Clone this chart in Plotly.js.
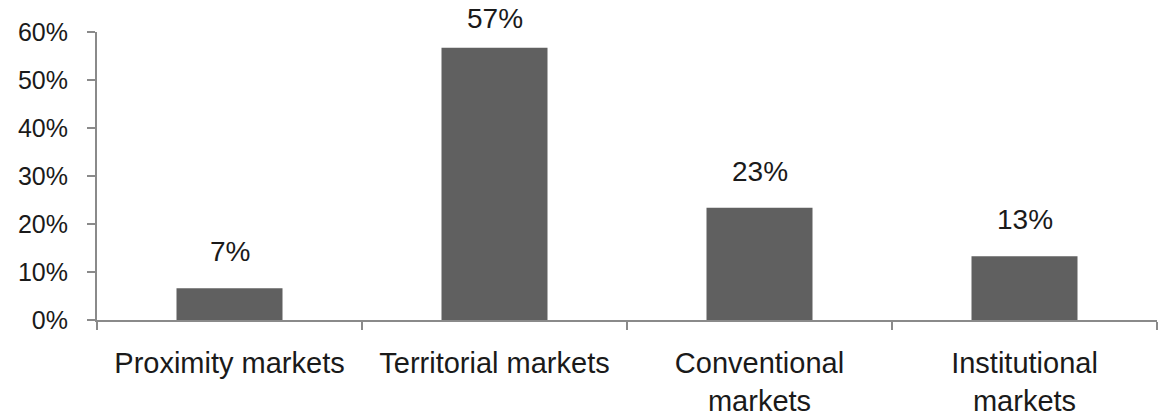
<!DOCTYPE html>
<html><head><meta charset="utf-8">
<script src="https://cdn.plot.ly/plotly-3.0.1.min.js"></script>
<style>html,body{margin:0;padding:0;background:#fff}#chart{width:1163px;height:419px}</style>
</head><body><div id="chart"></div>
<script>
const categories = ["Proximity markets", "Territorial markets", "Conventional<br>markets", "Institutional<br>markets"];
const values = [0.066, 0.567, 0.234, 0.133];
const valueLabels = ["7%", "57%", "23%", "13%"];
const yTickVals = [0, 0.1, 0.2, 0.3, 0.4, 0.5, 0.6];
const yTickText = ["0%", "10%", "20%", "30%", "40%", "50%", "60%"];

const fam = "Liberation Sans, Arial, sans-serif";
const tickFont = {family: fam, size: 25, color: "#1a1a1a"};
const catFont = {family: fam, size: 29, color: "#1a1a1a"};
const labelFont = {family: fam, size: 28, color: "#1a1a1a"};
const yMax = 0.6;

// labels sit above bars; near the top of the plot they are squeezed closer
const annotations = categories.map((c, i) => ({
  x: c, y: values[i], xref: "x", yref: "y",
  text: valueLabels[i], showarrow: false,
  yanchor: "bottom", yshift: values[i] > yMax * 0.9 ? 12 : 19, font: labelFont
}));

Plotly.newPlot("chart", [{
  type: "bar",
  x: categories,
  y: values,
  marker: {color: "#606060"},
  width: 0.4,
  hoverinfo: "none"
}], {
  width: 1163, height: 419,
  margin: {l: 97, r: 6, t: 32, b: 99},
  paper_bgcolor: "#fff", plot_bgcolor: "#fff",
  showlegend: false,
  font: tickFont,
  annotations: annotations,
  xaxis: {
    type: "category",
    showline: true, linecolor: "#8a8a8a", linewidth: 2,
    ticks: "outside", tickson: "boundaries", ticklen: 8, tickcolor: "#8a8a8a", tickwidth: 2,
    showgrid: false, zeroline: false,
    ticklabelstandoff: 16,
    tickfont: catFont
  },
  yaxis: {
    range: [0, yMax],
    tickvals: yTickVals, ticktext: yTickText,
    showline: true, linecolor: "#8a8a8a", linewidth: 2,
    ticks: "outside", ticklen: 8, tickcolor: "#8a8a8a", tickwidth: 2,
    showgrid: false, zeroline: false,
    ticklabelstandoff: 14,
    tickfont: tickFont
  }
}, {staticPlot: true});
</script></body></html>
